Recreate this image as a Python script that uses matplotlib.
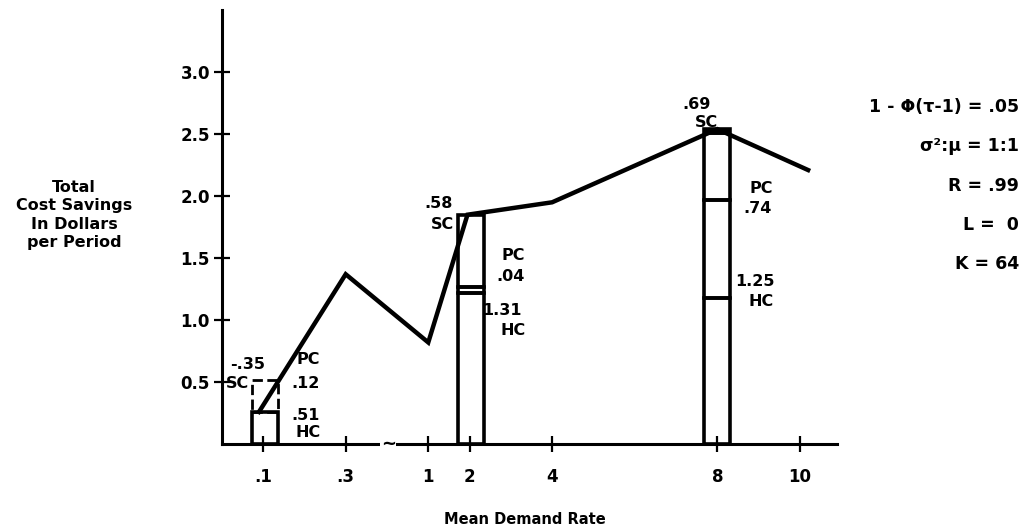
import matplotlib.pyplot as plt

# x axis: .1 and .3 sit left of the axis break, 1..10 are on a linear stretch
tick_labels = ['.1', '.3', '1', '2', '4', '8', '10']
tick_pos = [-3, -1, 1, 2, 4, 8, 10]

# total cost savings curve
curve_x = [-3.1, -1.0, 1.0, 1.95, 4.0, 8.0, 10.2]
curve_y = [0.26, 1.37, 0.82, 1.85, 1.95, 2.54, 2.21]

# component boxes at demand .1, 2 and 8 (holding, production, setup)
box_x = [-2.95, 2.03, 8.0]
hc = [0.26, 1.22, 1.18]
pc = [0.26, 0.05, 0.79]
sc = [0.0, 0.58, 0.57]
box_w = 0.62

params = ['1 - \u03a6(\u03c4-1) = .05', '\u03c3\u00b2:\u03bc = 1:1', 'R = .99', 'L =  0', 'K = 64']

plt.rcParams['font.family'] = ['DejaVu Sans']
plt.rcParams['font.weight'] = 'bold'

fig = plt.figure(figsize=(10.27, 5.30), dpi=100)
ax = fig.add_axes([0.216, 0.162, 0.599, 0.819])

ax.plot(curve_x, curve_y, color='black', lw=3.2, solid_joinstyle='miter')

for i in range(len(box_x)):
    ax.bar(box_x[i], hc[i], box_w, fill=False, edgecolor='black', lw=2.6)
    ls = '--' if i == 0 else '-'
    lw = 2.0 if i == 0 else 2.6
    ax.bar(box_x[i], pc[i], box_w, bottom=hc[i], fill=False, edgecolor='black', lw=lw, linestyle=ls)
    if sc[i] > 0:
        ax.bar(box_x[i], sc[i], box_w, bottom=hc[i] + pc[i], fill=False, edgecolor='black', lw=2.6)

# heavier cap on the tallest box
ax.hlines(hc[2] + pc[2] + sc[2] - 0.015, box_x[2] - box_w / 2, box_x[2] + box_w / 2, color='black', lw=5)

# axis break mark
ax.text(0.03, 0.0, '~', ha='center', va='center', fontsize=13,
        bbox=dict(facecolor='white', edgecolor='none', pad=0.5), clip_on=False)

fs = 11.5
ax.text(-3.38, 0.64, '-.35', ha='center', va='center', fontsize=fs)
ax.text(-3.62, 0.49, 'SC', ha='center', va='center', fontsize=fs)
ax.text(-1.9, 0.68, 'PC', ha='center', va='center', fontsize=fs)
ax.text(-1.98, 0.49, '.12', ha='center', va='center', fontsize=fs)
ax.text(-1.98, 0.23, '.51', ha='center', va='center', fontsize=fs)
ax.text(-1.9, 0.09, 'HC', ha='center', va='center', fontsize=fs)

ax.text(1.24, 1.94, '.58', ha='center', va='center', fontsize=fs)
ax.text(1.34, 1.77, 'SC', ha='center', va='center', fontsize=fs)
ax.text(3.06, 1.52, 'PC', ha='center', va='center', fontsize=fs)
ax.text(2.99, 1.35, '.04', ha='center', va='center', fontsize=fs)
ax.text(3.27, 1.08, '1.31', ha='right', va='center', fontsize=fs)
ax.text(3.06, 0.92, 'HC', ha='center', va='center', fontsize=fs)

ax.text(7.49, 2.74, '.69', ha='center', va='center', fontsize=fs)
ax.text(7.73, 2.59, 'SC', ha='center', va='center', fontsize=fs)
ax.text(9.06, 2.06, 'PC', ha='center', va='center', fontsize=fs)
ax.text(8.97, 1.90, '.74', ha='center', va='center', fontsize=fs)
ax.text(8.92, 1.31, '1.25', ha='center', va='center', fontsize=fs)
ax.text(9.06, 1.15, 'HC', ha='center', va='center', fontsize=fs)

ax.set_xlim(-4.0, 10.9)
ax.set_ylim(0, 3.5)
ax.set_xticks(tick_pos)
ax.set_xticklabels(tick_labels)
ax.set_yticks([0.5, 1.0, 1.5, 2.0, 2.5, 3.0])
ax.set_yticklabels(['0.5', '1.0', '1.5', '2.0', '2.5', '3.0'])
ax.tick_params(axis='both', direction='inout', length=11, width=1.6, labelsize=12)
ax.tick_params(axis='x', pad=12)
ax.tick_params(axis='y', pad=3)

for s in ['top', 'right']:
    ax.spines[s].set_visible(False)
for s in ['left', 'bottom']:
    ax.spines[s].set_linewidth(2.2)

fig.text(74 / 1027, 1 - 215 / 530, 'Total\nCost Savings\nIn Dollars\nper Period',
         ha='center', va='center', fontsize=11.5, linespacing=1.3)
fig.text(525 / 1027, 1 - 520 / 530, 'Mean Demand Rate', ha='center', va='center', fontsize=10.5)

for i, p in enumerate(params):
    fig.text(1019 / 1027, 1 - (107 + i * 39.3) / 530, p, ha='right', va='center', fontsize=12.5)

fig.savefig('out.png', dpi=100, facecolor='white')
